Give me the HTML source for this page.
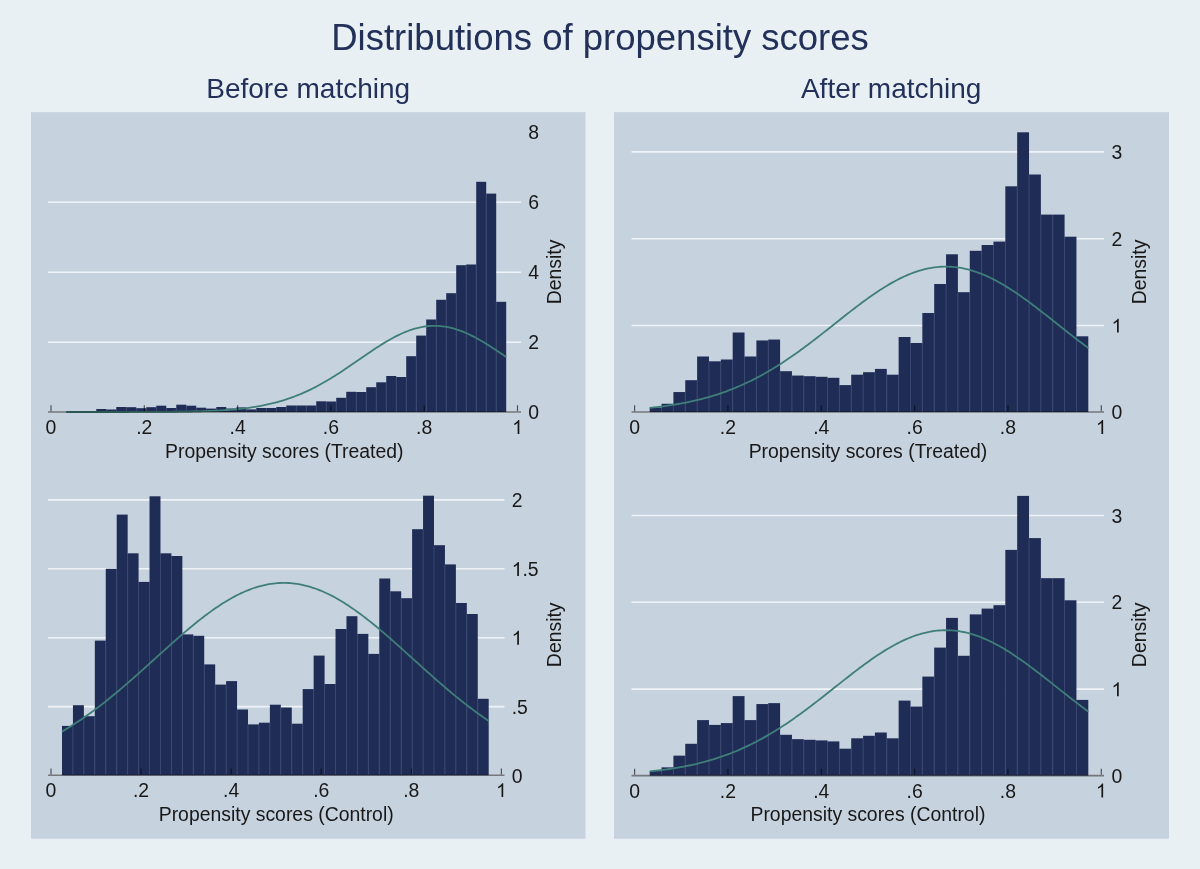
<!DOCTYPE html>
<html><head><meta charset="utf-8"><style>
html,body{margin:0;padding:0;background:#e8f0f3;}
svg{display:block}
.t{font-family:"Liberation Sans", sans-serif;font-size:19.4px;fill:#181818}
.h1{font-family:"Liberation Sans", sans-serif;font-size:36.5px;fill:#22305a}
.h2{font-family:"Liberation Sans", sans-serif;font-size:28px;fill:#22305a}
</style></head><body>
<svg width="1200" height="869" viewBox="0 0 1200 869">
<rect width="1200" height="869" fill="#e8f0f3"/>
<text x="600" y="50.1" text-anchor="middle" class="h1">Distributions of propensity scores</text>
<text x="308.2" y="98.4" text-anchor="middle" class="h2">Before matching</text>
<text x="891.2" y="98.4" text-anchor="middle" class="h2">After matching</text>
<rect x="31" y="112.2" width="554.5" height="726.5" fill="#c6d2de"/>
<rect x="614" y="112.2" width="555" height="726.5" fill="#c6d2de"/>
<line x1="48" y1="342.30" x2="521" y2="342.30" stroke="#eff3f7" stroke-width="1.6"/>
<line x1="48" y1="272.30" x2="521" y2="272.30" stroke="#eff3f7" stroke-width="1.6"/>
<line x1="48" y1="202.30" x2="521" y2="202.30" stroke="#eff3f7" stroke-width="1.6"/>
<rect x="66.30" y="411.40" width="10.00" height="0.60" fill="#1f2c56"/>
<rect x="76.30" y="411.40" width="10.00" height="0.60" fill="#1f2c56"/>
<rect x="86.30" y="411.40" width="10.00" height="0.60" fill="#1f2c56"/>
<rect x="96.29" y="409.00" width="10.00" height="3.00" fill="#1f2c56"/>
<rect x="106.29" y="409.50" width="10.00" height="2.50" fill="#1f2c56"/>
<rect x="116.29" y="407.00" width="10.00" height="5.00" fill="#1f2c56"/>
<rect x="126.29" y="407.20" width="10.00" height="4.80" fill="#1f2c56"/>
<rect x="136.28" y="408.20" width="10.00" height="3.80" fill="#1f2c56"/>
<rect x="146.28" y="407.20" width="10.00" height="4.80" fill="#1f2c56"/>
<rect x="156.28" y="405.70" width="10.00" height="6.30" fill="#1f2c56"/>
<rect x="166.28" y="408.00" width="10.00" height="4.00" fill="#1f2c56"/>
<rect x="176.28" y="404.70" width="10.00" height="7.30" fill="#1f2c56"/>
<rect x="186.27" y="405.70" width="10.00" height="6.30" fill="#1f2c56"/>
<rect x="196.27" y="407.70" width="10.00" height="4.30" fill="#1f2c56"/>
<rect x="206.27" y="408.60" width="10.00" height="3.40" fill="#1f2c56"/>
<rect x="216.27" y="407.00" width="10.00" height="5.00" fill="#1f2c56"/>
<rect x="226.26" y="408.50" width="10.00" height="3.50" fill="#1f2c56"/>
<rect x="236.26" y="407.40" width="10.00" height="4.60" fill="#1f2c56"/>
<rect x="246.26" y="409.40" width="10.00" height="2.60" fill="#1f2c56"/>
<rect x="256.26" y="408.00" width="10.00" height="4.00" fill="#1f2c56"/>
<rect x="266.25" y="408.00" width="10.00" height="4.00" fill="#1f2c56"/>
<rect x="276.25" y="407.00" width="10.00" height="5.00" fill="#1f2c56"/>
<rect x="286.25" y="405.50" width="10.00" height="6.50" fill="#1f2c56"/>
<rect x="296.25" y="405.50" width="10.00" height="6.50" fill="#1f2c56"/>
<rect x="306.25" y="405.50" width="10.00" height="6.50" fill="#1f2c56"/>
<rect x="316.24" y="401.30" width="10.00" height="10.70" fill="#1f2c56"/>
<rect x="326.24" y="401.50" width="10.00" height="10.50" fill="#1f2c56"/>
<rect x="336.24" y="397.80" width="10.00" height="14.20" fill="#1f2c56"/>
<rect x="346.24" y="391.80" width="10.00" height="20.20" fill="#1f2c56"/>
<rect x="356.23" y="392.00" width="10.00" height="20.00" fill="#1f2c56"/>
<rect x="366.23" y="387.20" width="10.00" height="24.80" fill="#1f2c56"/>
<rect x="376.23" y="382.30" width="10.00" height="29.70" fill="#1f2c56"/>
<rect x="386.23" y="376.00" width="10.00" height="36.00" fill="#1f2c56"/>
<rect x="396.23" y="377.00" width="10.00" height="35.00" fill="#1f2c56"/>
<rect x="406.22" y="356.20" width="10.00" height="55.80" fill="#1f2c56"/>
<rect x="416.22" y="335.60" width="10.00" height="76.40" fill="#1f2c56"/>
<rect x="426.22" y="319.50" width="10.00" height="92.50" fill="#1f2c56"/>
<rect x="436.22" y="299.80" width="10.00" height="112.20" fill="#1f2c56"/>
<rect x="446.21" y="293.20" width="10.00" height="118.80" fill="#1f2c56"/>
<rect x="456.21" y="265.20" width="10.00" height="146.80" fill="#1f2c56"/>
<rect x="466.21" y="264.50" width="10.00" height="147.50" fill="#1f2c56"/>
<rect x="476.21" y="181.80" width="10.00" height="230.20" fill="#1f2c56"/>
<rect x="486.20" y="193.60" width="10.00" height="218.40" fill="#1f2c56"/>
<rect x="496.20" y="301.80" width="10.00" height="110.20" fill="#1f2c56"/>
<line x1="106.29" y1="410.10" x2="106.29" y2="412.00" stroke="#394770" stroke-width="1"/>
<line x1="116.29" y1="410.10" x2="116.29" y2="412.00" stroke="#394770" stroke-width="1"/>
<line x1="126.29" y1="407.80" x2="126.29" y2="412.00" stroke="#394770" stroke-width="1"/>
<line x1="136.28" y1="408.80" x2="136.28" y2="412.00" stroke="#394770" stroke-width="1"/>
<line x1="146.28" y1="408.80" x2="146.28" y2="412.00" stroke="#394770" stroke-width="1"/>
<line x1="156.28" y1="407.80" x2="156.28" y2="412.00" stroke="#394770" stroke-width="1"/>
<line x1="166.28" y1="408.60" x2="166.28" y2="412.00" stroke="#394770" stroke-width="1"/>
<line x1="176.28" y1="408.60" x2="176.28" y2="412.00" stroke="#394770" stroke-width="1"/>
<line x1="186.27" y1="406.30" x2="186.27" y2="412.00" stroke="#394770" stroke-width="1"/>
<line x1="196.27" y1="408.30" x2="196.27" y2="412.00" stroke="#394770" stroke-width="1"/>
<line x1="206.27" y1="409.20" x2="206.27" y2="412.00" stroke="#394770" stroke-width="1"/>
<line x1="216.27" y1="409.20" x2="216.27" y2="412.00" stroke="#394770" stroke-width="1"/>
<line x1="226.26" y1="409.10" x2="226.26" y2="412.00" stroke="#394770" stroke-width="1"/>
<line x1="236.26" y1="409.10" x2="236.26" y2="412.00" stroke="#394770" stroke-width="1"/>
<line x1="246.26" y1="410.00" x2="246.26" y2="412.00" stroke="#394770" stroke-width="1"/>
<line x1="256.26" y1="410.00" x2="256.26" y2="412.00" stroke="#394770" stroke-width="1"/>
<line x1="266.25" y1="408.60" x2="266.25" y2="412.00" stroke="#394770" stroke-width="1"/>
<line x1="276.25" y1="408.60" x2="276.25" y2="412.00" stroke="#394770" stroke-width="1"/>
<line x1="286.25" y1="407.60" x2="286.25" y2="412.00" stroke="#394770" stroke-width="1"/>
<line x1="296.25" y1="406.10" x2="296.25" y2="412.00" stroke="#394770" stroke-width="1"/>
<line x1="306.25" y1="406.10" x2="306.25" y2="412.00" stroke="#394770" stroke-width="1"/>
<line x1="316.24" y1="406.10" x2="316.24" y2="412.00" stroke="#394770" stroke-width="1"/>
<line x1="326.24" y1="402.10" x2="326.24" y2="412.00" stroke="#394770" stroke-width="1"/>
<line x1="336.24" y1="402.10" x2="336.24" y2="412.00" stroke="#394770" stroke-width="1"/>
<line x1="346.24" y1="398.40" x2="346.24" y2="412.00" stroke="#394770" stroke-width="1"/>
<line x1="356.23" y1="392.60" x2="356.23" y2="412.00" stroke="#394770" stroke-width="1"/>
<line x1="366.23" y1="392.60" x2="366.23" y2="412.00" stroke="#394770" stroke-width="1"/>
<line x1="376.23" y1="387.80" x2="376.23" y2="412.00" stroke="#394770" stroke-width="1"/>
<line x1="386.23" y1="382.90" x2="386.23" y2="412.00" stroke="#394770" stroke-width="1"/>
<line x1="396.23" y1="377.60" x2="396.23" y2="412.00" stroke="#394770" stroke-width="1"/>
<line x1="406.22" y1="377.60" x2="406.22" y2="412.00" stroke="#394770" stroke-width="1"/>
<line x1="416.22" y1="356.80" x2="416.22" y2="412.00" stroke="#394770" stroke-width="1"/>
<line x1="426.22" y1="336.20" x2="426.22" y2="412.00" stroke="#394770" stroke-width="1"/>
<line x1="436.22" y1="320.10" x2="436.22" y2="412.00" stroke="#394770" stroke-width="1"/>
<line x1="446.21" y1="300.40" x2="446.21" y2="412.00" stroke="#394770" stroke-width="1"/>
<line x1="456.21" y1="293.80" x2="456.21" y2="412.00" stroke="#394770" stroke-width="1"/>
<line x1="466.21" y1="265.80" x2="466.21" y2="412.00" stroke="#394770" stroke-width="1"/>
<line x1="476.21" y1="265.10" x2="476.21" y2="412.00" stroke="#394770" stroke-width="1"/>
<line x1="486.20" y1="194.20" x2="486.20" y2="412.00" stroke="#394770" stroke-width="1"/>
<line x1="496.20" y1="302.40" x2="496.20" y2="412.00" stroke="#394770" stroke-width="1"/>
<polyline points="66.30,412.00 68.50,412.00 70.70,412.00 72.90,412.00 75.10,412.00 77.30,412.00 79.50,412.00 81.70,412.00 83.90,412.00 86.10,412.00 88.30,412.00 90.49,412.00 92.69,412.00 94.89,412.00 97.09,412.00 99.29,412.00 101.49,411.99 103.69,411.99 105.89,411.99 108.09,411.99 110.29,411.99 112.49,411.99 114.69,411.99 116.89,411.99 119.09,411.99 121.29,411.98 123.49,411.98 125.69,411.98 127.89,411.98 130.09,411.97 132.28,411.97 134.48,411.97 136.68,411.96 138.88,411.96 141.08,411.95 143.28,411.95 145.48,411.94 147.68,411.94 149.88,411.93 152.08,411.92 154.28,411.91 156.48,411.90 158.68,411.89 160.88,411.88 163.08,411.86 165.28,411.85 167.48,411.83 169.68,411.81 171.88,411.79 174.08,411.77 176.27,411.75 178.47,411.72 180.67,411.69 182.87,411.66 185.07,411.63 187.27,411.59 189.47,411.55 191.67,411.51 193.87,411.46 196.07,411.40 198.27,411.35 200.47,411.29 202.67,411.22 204.87,411.15 207.07,411.07 209.27,410.98 211.47,410.89 213.67,410.79 215.87,410.69 218.07,410.57 220.26,410.45 222.46,410.31 224.66,410.17 226.86,410.02 229.06,409.86 231.26,409.68 233.46,409.49 235.66,409.29 237.86,409.08 240.06,408.85 242.26,408.60 244.46,408.35 246.66,408.07 248.86,407.78 251.06,407.47 253.26,407.14 255.46,406.79 257.66,406.42 259.86,406.03 262.06,405.61 264.25,405.18 266.45,404.72 268.65,404.23 270.85,403.73 273.05,403.19 275.25,402.63 277.45,402.04 279.65,401.43 281.85,400.78 284.05,400.11 286.25,399.40 288.45,398.67 290.65,397.90 292.85,397.11 295.05,396.28 297.25,395.42 299.45,394.53 301.65,393.60 303.85,392.64 306.05,391.65 308.25,390.63 310.44,389.58 312.64,388.49 314.84,387.37 317.04,386.22 319.24,385.04 321.44,383.83 323.64,382.59 325.84,381.32 328.04,380.02 330.24,378.70 332.44,377.35 334.64,375.98 336.84,374.58 339.04,373.16 341.24,371.73 343.44,370.27 345.64,368.80 347.84,367.32 350.04,365.82 352.24,364.31 354.43,362.80 356.63,361.28 358.83,359.76 361.03,358.24 363.23,356.72 365.43,355.21 367.63,353.70 369.83,352.21 372.03,350.73 374.23,349.26 376.43,347.82 378.63,346.40 380.83,345.00 383.03,343.63 385.23,342.29 387.43,340.99 389.63,339.72 391.83,338.49 394.03,337.30 396.23,336.16 398.42,335.07 400.62,334.03 402.82,333.04 405.02,332.11 407.22,331.23 409.42,330.41 411.62,329.66 413.82,328.96 416.02,328.34 418.22,327.78 420.42,327.28 422.62,326.86 424.82,326.51 427.02,326.23 429.22,326.02 431.42,325.88 433.62,325.81 435.82,325.82 438.02,325.90 440.22,326.06 442.41,326.28 444.61,326.58 446.81,326.95 449.01,327.39 451.21,327.90 453.41,328.48 455.61,329.12 457.81,329.83 460.01,330.60 462.21,331.43 464.41,332.32 466.61,333.26 468.81,334.27 471.01,335.32 473.21,336.42 475.41,337.57 477.61,338.77 479.81,340.01 482.01,341.28 484.20,342.60 486.40,343.94 488.60,345.32 490.80,346.72 493.00,348.15 495.20,349.60 497.40,351.07 499.60,352.55 501.80,354.05 504.00,355.56 506.20,357.07" fill="none" stroke="#3f7f79" stroke-width="1.8"/>
<g style="mix-blend-mode:multiply">
<line x1="48" y1="412.00" x2="521" y2="412.00" stroke="#96918e" stroke-width="1.6"/>
<line x1="51.00" y1="405.20" x2="51.00" y2="411.20" stroke="#666666" stroke-width="1.2"/>
<line x1="144.30" y1="405.20" x2="144.30" y2="411.20" stroke="#666666" stroke-width="1.2"/>
<line x1="237.60" y1="405.20" x2="237.60" y2="411.20" stroke="#666666" stroke-width="1.2"/>
<line x1="330.90" y1="405.20" x2="330.90" y2="411.20" stroke="#666666" stroke-width="1.2"/>
<line x1="424.20" y1="405.20" x2="424.20" y2="411.20" stroke="#666666" stroke-width="1.2"/>
<line x1="517.50" y1="405.20" x2="517.50" y2="411.20" stroke="#666666" stroke-width="1.2"/>
</g>
<text x="51.00" y="433.90" text-anchor="middle" class="t">0</text>
<text x="144.30" y="433.90" text-anchor="middle" class="t">.2</text>
<text x="237.60" y="433.90" text-anchor="middle" class="t">.4</text>
<text x="330.90" y="433.90" text-anchor="middle" class="t">.6</text>
<text x="424.20" y="433.90" text-anchor="middle" class="t">.8</text>
<path d="M519.33,433.90 H517.63 V423.03 Q517.01,423.62 516.01,424.21 Q515.00,424.80 514.21,425.09 V423.44 Q515.64,422.77 516.71,421.81 Q517.78,420.86 518.22,419.96 H519.33 Z" fill="#181818"/>
<text x="284.25" y="457.50" text-anchor="middle" class="t">Propensity scores (Treated)</text>
<text x="528.30" y="419.40" class="t">0</text>
<text x="528.30" y="349.40" class="t">2</text>
<text x="528.30" y="279.40" class="t">4</text>
<text x="528.30" y="209.40" class="t">6</text>
<text x="528.30" y="139.40" class="t">8</text>
<text transform="translate(561.3,272) rotate(-90)" text-anchor="middle" class="t">Density</text>
<line x1="48" y1="706.60" x2="504.5" y2="706.60" stroke="#eff3f7" stroke-width="1.6"/>
<line x1="48" y1="637.70" x2="504.5" y2="637.70" stroke="#eff3f7" stroke-width="1.6"/>
<line x1="48" y1="568.80" x2="504.5" y2="568.80" stroke="#eff3f7" stroke-width="1.6"/>
<line x1="48" y1="499.90" x2="504.5" y2="499.90" stroke="#eff3f7" stroke-width="1.6"/>
<rect x="62.00" y="725.90" width="10.94" height="49.30" fill="#1f2c56"/>
<rect x="72.94" y="705.20" width="10.94" height="70.00" fill="#1f2c56"/>
<rect x="83.88" y="716.20" width="10.94" height="59.00" fill="#1f2c56"/>
<rect x="94.82" y="640.60" width="10.94" height="134.60" fill="#1f2c56"/>
<rect x="105.76" y="568.80" width="10.94" height="206.40" fill="#1f2c56"/>
<rect x="116.71" y="514.60" width="10.94" height="260.60" fill="#1f2c56"/>
<rect x="127.65" y="553.30" width="10.94" height="221.90" fill="#1f2c56"/>
<rect x="138.59" y="581.90" width="10.94" height="193.30" fill="#1f2c56"/>
<rect x="149.53" y="496.30" width="10.94" height="278.90" fill="#1f2c56"/>
<rect x="160.47" y="553.30" width="10.94" height="221.90" fill="#1f2c56"/>
<rect x="171.41" y="556.00" width="10.94" height="219.20" fill="#1f2c56"/>
<rect x="182.35" y="634.40" width="10.94" height="140.80" fill="#1f2c56"/>
<rect x="193.29" y="635.80" width="10.94" height="139.40" fill="#1f2c56"/>
<rect x="204.23" y="664.40" width="10.94" height="110.80" fill="#1f2c56"/>
<rect x="215.17" y="684.60" width="10.94" height="90.60" fill="#1f2c56"/>
<rect x="226.12" y="681.10" width="10.94" height="94.10" fill="#1f2c56"/>
<rect x="237.06" y="709.50" width="10.94" height="65.70" fill="#1f2c56"/>
<rect x="248.00" y="724.40" width="10.94" height="50.80" fill="#1f2c56"/>
<rect x="258.94" y="722.70" width="10.94" height="52.50" fill="#1f2c56"/>
<rect x="269.88" y="704.70" width="10.94" height="70.50" fill="#1f2c56"/>
<rect x="280.82" y="707.50" width="10.94" height="67.70" fill="#1f2c56"/>
<rect x="291.76" y="723.70" width="10.94" height="51.50" fill="#1f2c56"/>
<rect x="302.70" y="689.10" width="10.94" height="86.10" fill="#1f2c56"/>
<rect x="313.64" y="655.60" width="10.94" height="119.60" fill="#1f2c56"/>
<rect x="324.58" y="684.00" width="10.94" height="91.20" fill="#1f2c56"/>
<rect x="335.53" y="629.00" width="10.94" height="146.20" fill="#1f2c56"/>
<rect x="346.47" y="616.20" width="10.94" height="159.00" fill="#1f2c56"/>
<rect x="357.41" y="633.90" width="10.94" height="141.30" fill="#1f2c56"/>
<rect x="368.35" y="653.90" width="10.94" height="121.30" fill="#1f2c56"/>
<rect x="379.29" y="578.50" width="10.94" height="196.70" fill="#1f2c56"/>
<rect x="390.23" y="591.30" width="10.94" height="183.90" fill="#1f2c56"/>
<rect x="401.17" y="598.20" width="10.94" height="177.00" fill="#1f2c56"/>
<rect x="412.11" y="529.20" width="10.94" height="246.00" fill="#1f2c56"/>
<rect x="423.05" y="495.70" width="10.94" height="279.50" fill="#1f2c56"/>
<rect x="433.99" y="545.20" width="10.94" height="230.00" fill="#1f2c56"/>
<rect x="444.94" y="564.40" width="10.94" height="210.80" fill="#1f2c56"/>
<rect x="455.88" y="603.00" width="10.94" height="172.20" fill="#1f2c56"/>
<rect x="466.82" y="614.00" width="10.94" height="161.20" fill="#1f2c56"/>
<rect x="477.76" y="698.80" width="10.94" height="76.40" fill="#1f2c56"/>
<line x1="72.94" y1="726.50" x2="72.94" y2="775.20" stroke="#394770" stroke-width="1"/>
<line x1="83.88" y1="716.80" x2="83.88" y2="775.20" stroke="#394770" stroke-width="1"/>
<line x1="94.82" y1="716.80" x2="94.82" y2="775.20" stroke="#394770" stroke-width="1"/>
<line x1="105.76" y1="641.20" x2="105.76" y2="775.20" stroke="#394770" stroke-width="1"/>
<line x1="116.71" y1="569.40" x2="116.71" y2="775.20" stroke="#394770" stroke-width="1"/>
<line x1="127.65" y1="553.90" x2="127.65" y2="775.20" stroke="#394770" stroke-width="1"/>
<line x1="138.59" y1="582.50" x2="138.59" y2="775.20" stroke="#394770" stroke-width="1"/>
<line x1="149.53" y1="582.50" x2="149.53" y2="775.20" stroke="#394770" stroke-width="1"/>
<line x1="160.47" y1="553.90" x2="160.47" y2="775.20" stroke="#394770" stroke-width="1"/>
<line x1="171.41" y1="556.60" x2="171.41" y2="775.20" stroke="#394770" stroke-width="1"/>
<line x1="182.35" y1="635.00" x2="182.35" y2="775.20" stroke="#394770" stroke-width="1"/>
<line x1="193.29" y1="636.40" x2="193.29" y2="775.20" stroke="#394770" stroke-width="1"/>
<line x1="204.23" y1="665.00" x2="204.23" y2="775.20" stroke="#394770" stroke-width="1"/>
<line x1="215.17" y1="685.20" x2="215.17" y2="775.20" stroke="#394770" stroke-width="1"/>
<line x1="226.12" y1="685.20" x2="226.12" y2="775.20" stroke="#394770" stroke-width="1"/>
<line x1="237.06" y1="710.10" x2="237.06" y2="775.20" stroke="#394770" stroke-width="1"/>
<line x1="248.00" y1="725.00" x2="248.00" y2="775.20" stroke="#394770" stroke-width="1"/>
<line x1="258.94" y1="725.00" x2="258.94" y2="775.20" stroke="#394770" stroke-width="1"/>
<line x1="269.88" y1="723.30" x2="269.88" y2="775.20" stroke="#394770" stroke-width="1"/>
<line x1="280.82" y1="708.10" x2="280.82" y2="775.20" stroke="#394770" stroke-width="1"/>
<line x1="291.76" y1="724.30" x2="291.76" y2="775.20" stroke="#394770" stroke-width="1"/>
<line x1="302.70" y1="724.30" x2="302.70" y2="775.20" stroke="#394770" stroke-width="1"/>
<line x1="313.64" y1="689.70" x2="313.64" y2="775.20" stroke="#394770" stroke-width="1"/>
<line x1="324.58" y1="684.60" x2="324.58" y2="775.20" stroke="#394770" stroke-width="1"/>
<line x1="335.53" y1="684.60" x2="335.53" y2="775.20" stroke="#394770" stroke-width="1"/>
<line x1="346.47" y1="629.60" x2="346.47" y2="775.20" stroke="#394770" stroke-width="1"/>
<line x1="357.41" y1="634.50" x2="357.41" y2="775.20" stroke="#394770" stroke-width="1"/>
<line x1="368.35" y1="654.50" x2="368.35" y2="775.20" stroke="#394770" stroke-width="1"/>
<line x1="379.29" y1="654.50" x2="379.29" y2="775.20" stroke="#394770" stroke-width="1"/>
<line x1="390.23" y1="591.90" x2="390.23" y2="775.20" stroke="#394770" stroke-width="1"/>
<line x1="401.17" y1="598.80" x2="401.17" y2="775.20" stroke="#394770" stroke-width="1"/>
<line x1="412.11" y1="598.80" x2="412.11" y2="775.20" stroke="#394770" stroke-width="1"/>
<line x1="423.05" y1="529.80" x2="423.05" y2="775.20" stroke="#394770" stroke-width="1"/>
<line x1="433.99" y1="545.80" x2="433.99" y2="775.20" stroke="#394770" stroke-width="1"/>
<line x1="444.94" y1="565.00" x2="444.94" y2="775.20" stroke="#394770" stroke-width="1"/>
<line x1="455.88" y1="603.60" x2="455.88" y2="775.20" stroke="#394770" stroke-width="1"/>
<line x1="466.82" y1="614.60" x2="466.82" y2="775.20" stroke="#394770" stroke-width="1"/>
<line x1="477.76" y1="699.40" x2="477.76" y2="775.20" stroke="#394770" stroke-width="1"/>
<polyline points="62.00,731.61 64.13,730.36 66.27,729.08 68.40,727.77 70.53,726.45 72.67,725.10 74.80,723.72 76.93,722.33 79.07,720.91 81.20,719.47 83.34,718.00 85.47,716.52 87.60,715.01 89.74,713.48 91.87,711.92 94.00,710.35 96.14,708.75 98.27,707.14 100.40,705.50 102.54,703.85 104.67,702.18 106.80,700.48 108.94,698.77 111.07,697.04 113.20,695.30 115.34,693.53 117.47,691.76 119.60,689.96 121.74,688.15 123.87,686.33 126.00,684.49 128.14,682.65 130.27,680.79 132.41,678.91 134.54,677.03 136.67,675.14 138.81,673.24 140.94,671.34 143.07,669.42 145.21,667.51 147.34,665.58 149.47,663.65 151.61,661.72 153.74,659.79 155.87,657.86 158.01,655.93 160.14,654.00 162.27,652.07 164.41,650.15 166.54,648.23 168.68,646.31 170.81,644.41 172.94,642.51 175.08,640.62 177.21,638.74 179.34,636.88 181.48,635.02 183.61,633.18 185.74,631.36 187.88,629.55 190.01,627.76 192.14,625.99 194.28,624.24 196.41,622.51 198.54,620.81 200.68,619.12 202.81,617.47 204.94,615.83 207.08,614.23 209.21,612.65 211.34,611.11 213.48,609.59 215.61,608.11 217.75,606.66 219.88,605.24 222.01,603.86 224.15,602.52 226.28,601.21 228.41,599.94 230.55,598.71 232.68,597.52 234.81,596.37 236.95,595.26 239.08,594.20 241.21,593.17 243.35,592.20 245.48,591.27 247.61,590.38 249.75,589.54 251.88,588.75 254.01,588.01 256.15,587.32 258.28,586.67 260.42,586.07 262.55,585.53 264.68,585.04 266.82,584.59 268.95,584.20 271.08,583.86 273.22,583.57 275.35,583.33 277.48,583.15 279.62,583.02 281.75,582.94 283.88,582.92 286.02,582.94 288.15,583.02 290.28,583.15 292.42,583.34 294.55,583.58 296.69,583.87 298.82,584.21 300.95,584.60 303.09,585.05 305.22,585.54 307.35,586.09 309.49,586.69 311.62,587.33 313.75,588.03 315.89,588.77 318.02,589.56 320.15,590.40 322.29,591.29 324.42,592.22 326.55,593.20 328.69,594.22 330.82,595.29 332.95,596.40 335.09,597.55 337.22,598.74 339.36,599.97 341.49,601.24 343.62,602.55 345.76,603.90 347.89,605.28 350.02,606.69 352.16,608.15 354.29,609.63 356.42,611.15 358.56,612.69 360.69,614.27 362.82,615.88 364.96,617.51 367.09,619.17 369.22,620.85 371.36,622.56 373.49,624.29 375.62,626.04 377.76,627.81 379.89,629.60 382.02,631.41 384.16,633.23 386.29,635.07 388.43,636.92 390.56,638.79 392.69,640.67 394.83,642.56 396.96,644.46 399.09,646.36 401.23,648.28 403.36,650.20 405.49,652.12 407.63,654.05 409.76,655.98 411.89,657.91 414.03,659.84 416.16,661.77 418.29,663.70 420.43,665.63 422.56,667.55 424.69,669.47 426.83,671.39 428.96,673.29 431.10,675.19 433.23,677.08 435.36,678.96 437.50,680.83 439.63,682.69 441.76,684.54 443.90,686.38 446.03,688.20 448.16,690.01 450.30,691.80 452.43,693.58 454.56,695.34 456.70,697.09 458.83,698.82 460.96,700.53 463.10,702.22 465.23,703.89 467.37,705.55 469.50,707.18 471.63,708.80 473.77,710.39 475.90,711.96 478.03,713.51 480.17,715.05 482.30,716.55 484.43,718.04 486.57,719.50 488.70,720.95" fill="none" stroke="#3f7f79" stroke-width="1.8"/>
<g style="mix-blend-mode:multiply">
<line x1="48" y1="775.20" x2="504.5" y2="775.20" stroke="#96918e" stroke-width="1.6"/>
<line x1="51.00" y1="768.40" x2="51.00" y2="774.40" stroke="#666666" stroke-width="1.2"/>
<line x1="141.08" y1="768.40" x2="141.08" y2="774.40" stroke="#666666" stroke-width="1.2"/>
<line x1="231.16" y1="768.40" x2="231.16" y2="774.40" stroke="#666666" stroke-width="1.2"/>
<line x1="321.24" y1="768.40" x2="321.24" y2="774.40" stroke="#666666" stroke-width="1.2"/>
<line x1="411.32" y1="768.40" x2="411.32" y2="774.40" stroke="#666666" stroke-width="1.2"/>
<line x1="501.40" y1="768.40" x2="501.40" y2="774.40" stroke="#666666" stroke-width="1.2"/>
</g>
<text x="51.00" y="797.10" text-anchor="middle" class="t">0</text>
<text x="141.08" y="797.10" text-anchor="middle" class="t">.2</text>
<text x="231.16" y="797.10" text-anchor="middle" class="t">.4</text>
<text x="321.24" y="797.10" text-anchor="middle" class="t">.6</text>
<text x="411.32" y="797.10" text-anchor="middle" class="t">.8</text>
<path d="M503.23,797.10 H501.53 V786.23 Q500.91,786.82 499.91,787.41 Q498.90,788.00 498.11,788.29 V786.64 Q499.54,785.97 500.61,785.01 Q501.68,784.06 502.12,783.16 H503.23 Z" fill="#181818"/>
<text x="276.20" y="820.70" text-anchor="middle" class="t">Propensity scores (Control)</text>
<text x="511.70" y="782.60" class="t">0</text>
<text x="511.70" y="713.70" class="t">.5</text>
<path d="M518.93,644.80 H517.22 V633.93 Q516.61,634.52 515.60,635.11 Q514.60,635.70 513.80,635.99 V634.34 Q515.23,633.67 516.30,632.71 Q517.37,631.76 517.82,630.86 H518.93 Z" fill="#181818"/>
<path d="M518.93,575.90 H517.22 V565.03 Q516.61,565.62 515.60,566.21 Q514.60,566.80 513.80,567.09 V565.44 Q515.23,564.77 516.30,563.81 Q517.37,562.86 517.82,561.96 H518.93 Z" fill="#181818"/><text x="522.49" y="575.90" class="t">.5</text>
<text x="511.70" y="507.00" class="t">2</text>
<text transform="translate(561.3,634.8) rotate(-90)" text-anchor="middle" class="t">Density</text>
<line x1="631.5" y1="325.50" x2="1104" y2="325.50" stroke="#eff3f7" stroke-width="1.6"/>
<line x1="631.5" y1="238.70" x2="1104" y2="238.70" stroke="#eff3f7" stroke-width="1.6"/>
<line x1="631.5" y1="151.90" x2="1104" y2="151.90" stroke="#eff3f7" stroke-width="1.6"/>
<rect x="649.70" y="407.50" width="11.85" height="4.50" fill="#1f2c56"/>
<rect x="661.55" y="403.75" width="11.85" height="8.25" fill="#1f2c56"/>
<rect x="673.41" y="392.05" width="11.85" height="19.95" fill="#1f2c56"/>
<rect x="685.26" y="380.20" width="11.85" height="31.80" fill="#1f2c56"/>
<rect x="697.12" y="356.50" width="11.85" height="55.50" fill="#1f2c56"/>
<rect x="708.97" y="361.30" width="11.85" height="50.70" fill="#1f2c56"/>
<rect x="720.82" y="359.50" width="11.85" height="52.50" fill="#1f2c56"/>
<rect x="732.68" y="332.50" width="11.85" height="79.50" fill="#1f2c56"/>
<rect x="744.53" y="356.50" width="11.85" height="55.50" fill="#1f2c56"/>
<rect x="756.39" y="340.45" width="11.85" height="71.55" fill="#1f2c56"/>
<rect x="768.24" y="339.55" width="11.85" height="72.45" fill="#1f2c56"/>
<rect x="780.09" y="371.20" width="11.85" height="40.80" fill="#1f2c56"/>
<rect x="791.95" y="375.55" width="11.85" height="36.45" fill="#1f2c56"/>
<rect x="803.80" y="376.20" width="11.85" height="35.80" fill="#1f2c56"/>
<rect x="815.66" y="376.80" width="11.85" height="35.20" fill="#1f2c56"/>
<rect x="827.51" y="377.80" width="11.85" height="34.20" fill="#1f2c56"/>
<rect x="839.36" y="385.10" width="11.85" height="26.90" fill="#1f2c56"/>
<rect x="851.22" y="374.70" width="11.85" height="37.30" fill="#1f2c56"/>
<rect x="863.07" y="372.20" width="11.85" height="39.80" fill="#1f2c56"/>
<rect x="874.93" y="368.90" width="11.85" height="43.10" fill="#1f2c56"/>
<rect x="886.78" y="374.70" width="11.85" height="37.30" fill="#1f2c56"/>
<rect x="898.64" y="337.00" width="11.85" height="75.00" fill="#1f2c56"/>
<rect x="910.49" y="343.00" width="11.85" height="69.00" fill="#1f2c56"/>
<rect x="922.34" y="313.00" width="11.85" height="99.00" fill="#1f2c56"/>
<rect x="934.20" y="284.00" width="11.85" height="128.00" fill="#1f2c56"/>
<rect x="946.05" y="254.30" width="11.85" height="157.70" fill="#1f2c56"/>
<rect x="957.91" y="292.20" width="11.85" height="119.80" fill="#1f2c56"/>
<rect x="969.76" y="250.80" width="11.85" height="161.20" fill="#1f2c56"/>
<rect x="981.61" y="245.00" width="11.85" height="167.00" fill="#1f2c56"/>
<rect x="993.47" y="241.60" width="11.85" height="170.40" fill="#1f2c56"/>
<rect x="1005.32" y="186.30" width="11.85" height="225.70" fill="#1f2c56"/>
<rect x="1017.18" y="132.30" width="11.85" height="279.70" fill="#1f2c56"/>
<rect x="1029.03" y="174.50" width="11.85" height="237.50" fill="#1f2c56"/>
<rect x="1040.88" y="214.60" width="11.85" height="197.40" fill="#1f2c56"/>
<rect x="1052.74" y="214.60" width="11.85" height="197.40" fill="#1f2c56"/>
<rect x="1064.59" y="236.70" width="11.85" height="175.30" fill="#1f2c56"/>
<rect x="1076.45" y="336.30" width="11.85" height="75.70" fill="#1f2c56"/>
<line x1="661.55" y1="408.10" x2="661.55" y2="412.00" stroke="#394770" stroke-width="1"/>
<line x1="673.41" y1="404.35" x2="673.41" y2="412.00" stroke="#394770" stroke-width="1"/>
<line x1="685.26" y1="392.65" x2="685.26" y2="412.00" stroke="#394770" stroke-width="1"/>
<line x1="697.12" y1="380.80" x2="697.12" y2="412.00" stroke="#394770" stroke-width="1"/>
<line x1="708.97" y1="361.90" x2="708.97" y2="412.00" stroke="#394770" stroke-width="1"/>
<line x1="720.82" y1="361.90" x2="720.82" y2="412.00" stroke="#394770" stroke-width="1"/>
<line x1="732.68" y1="360.10" x2="732.68" y2="412.00" stroke="#394770" stroke-width="1"/>
<line x1="744.53" y1="357.10" x2="744.53" y2="412.00" stroke="#394770" stroke-width="1"/>
<line x1="756.39" y1="357.10" x2="756.39" y2="412.00" stroke="#394770" stroke-width="1"/>
<line x1="768.24" y1="341.05" x2="768.24" y2="412.00" stroke="#394770" stroke-width="1"/>
<line x1="780.09" y1="371.80" x2="780.09" y2="412.00" stroke="#394770" stroke-width="1"/>
<line x1="791.95" y1="376.15" x2="791.95" y2="412.00" stroke="#394770" stroke-width="1"/>
<line x1="803.80" y1="376.80" x2="803.80" y2="412.00" stroke="#394770" stroke-width="1"/>
<line x1="815.66" y1="377.40" x2="815.66" y2="412.00" stroke="#394770" stroke-width="1"/>
<line x1="827.51" y1="378.40" x2="827.51" y2="412.00" stroke="#394770" stroke-width="1"/>
<line x1="839.36" y1="385.70" x2="839.36" y2="412.00" stroke="#394770" stroke-width="1"/>
<line x1="851.22" y1="385.70" x2="851.22" y2="412.00" stroke="#394770" stroke-width="1"/>
<line x1="863.07" y1="375.30" x2="863.07" y2="412.00" stroke="#394770" stroke-width="1"/>
<line x1="874.93" y1="372.80" x2="874.93" y2="412.00" stroke="#394770" stroke-width="1"/>
<line x1="886.78" y1="375.30" x2="886.78" y2="412.00" stroke="#394770" stroke-width="1"/>
<line x1="898.64" y1="375.30" x2="898.64" y2="412.00" stroke="#394770" stroke-width="1"/>
<line x1="910.49" y1="343.60" x2="910.49" y2="412.00" stroke="#394770" stroke-width="1"/>
<line x1="922.34" y1="343.60" x2="922.34" y2="412.00" stroke="#394770" stroke-width="1"/>
<line x1="934.20" y1="313.60" x2="934.20" y2="412.00" stroke="#394770" stroke-width="1"/>
<line x1="946.05" y1="284.60" x2="946.05" y2="412.00" stroke="#394770" stroke-width="1"/>
<line x1="957.91" y1="292.80" x2="957.91" y2="412.00" stroke="#394770" stroke-width="1"/>
<line x1="969.76" y1="292.80" x2="969.76" y2="412.00" stroke="#394770" stroke-width="1"/>
<line x1="981.61" y1="251.40" x2="981.61" y2="412.00" stroke="#394770" stroke-width="1"/>
<line x1="993.47" y1="245.60" x2="993.47" y2="412.00" stroke="#394770" stroke-width="1"/>
<line x1="1005.32" y1="242.20" x2="1005.32" y2="412.00" stroke="#394770" stroke-width="1"/>
<line x1="1017.18" y1="186.90" x2="1017.18" y2="412.00" stroke="#394770" stroke-width="1"/>
<line x1="1029.03" y1="175.10" x2="1029.03" y2="412.00" stroke="#394770" stroke-width="1"/>
<line x1="1040.88" y1="215.20" x2="1040.88" y2="412.00" stroke="#394770" stroke-width="1"/>
<line x1="1052.74" y1="215.20" x2="1052.74" y2="412.00" stroke="#394770" stroke-width="1"/>
<line x1="1064.59" y1="237.30" x2="1064.59" y2="412.00" stroke="#394770" stroke-width="1"/>
<line x1="1076.45" y1="336.90" x2="1076.45" y2="412.00" stroke="#394770" stroke-width="1"/>
<polyline points="649.70,407.82 651.89,407.60 654.09,407.36 656.28,407.12 658.47,406.86 660.67,406.59 662.86,406.31 665.05,406.02 667.24,405.72 669.44,405.40 671.63,405.07 673.82,404.72 676.02,404.37 678.21,403.99 680.40,403.60 682.60,403.20 684.79,402.78 686.98,402.35 689.17,401.90 691.37,401.43 693.56,400.94 695.75,400.44 697.95,399.91 700.14,399.37 702.33,398.81 704.53,398.23 706.72,397.63 708.91,397.01 711.10,396.37 713.30,395.71 715.49,395.03 717.68,394.32 719.88,393.60 722.07,392.85 724.26,392.07 726.46,391.28 728.65,390.46 730.84,389.62 733.03,388.75 735.23,387.86 737.42,386.95 739.61,386.01 741.81,385.04 744.00,384.05 746.19,383.04 748.38,382.00 750.58,380.94 752.77,379.85 754.96,378.74 757.16,377.60 759.35,376.43 761.54,375.24 763.74,374.03 765.93,372.79 768.12,371.52 770.32,370.23 772.51,368.92 774.70,367.58 776.89,366.22 779.09,364.84 781.28,363.43 783.47,362.00 785.67,360.55 787.86,359.07 790.05,357.58 792.25,356.06 794.44,354.53 796.63,352.97 798.82,351.40 801.02,349.81 803.21,348.20 805.40,346.58 807.60,344.94 809.79,343.29 811.98,341.62 814.17,339.95 816.37,338.26 818.56,336.56 820.75,334.85 822.95,333.13 825.14,331.41 827.33,329.68 829.53,327.94 831.72,326.21 833.91,324.47 836.11,322.73 838.30,320.99 840.49,319.25 842.68,317.52 844.88,315.79 847.07,314.07 849.26,312.36 851.46,310.66 853.65,308.96 855.84,307.28 858.03,305.62 860.23,303.97 862.42,302.33 864.61,300.72 866.81,299.12 869.00,297.55 871.19,296.00 873.39,294.48 875.58,292.98 877.77,291.51 879.97,290.07 882.16,288.66 884.35,287.28 886.54,285.93 888.74,284.62 890.93,283.35 893.12,282.11 895.32,280.92 897.51,279.76 899.70,278.65 901.89,277.57 904.09,276.55 906.28,275.57 908.47,274.63 910.67,273.74 912.86,272.90 915.05,272.11 917.25,271.37 919.44,270.68 921.63,270.05 923.83,269.46 926.02,268.93 928.21,268.45 930.40,268.03 932.60,267.66 934.79,267.35 936.98,267.09 939.18,266.89 941.37,266.75 943.56,266.66 945.75,266.63 947.95,266.65 950.14,266.73 952.33,266.87 954.53,267.06 956.72,267.31 958.91,267.62 961.11,267.98 963.30,268.40 965.49,268.87 967.68,269.39 969.88,269.97 972.07,270.60 974.26,271.28 976.46,272.02 978.65,272.80 980.84,273.64 983.04,274.52 985.23,275.45 987.42,276.43 989.62,277.45 991.81,278.51 994.00,279.62 996.19,280.77 998.39,281.96 1000.58,283.20 1002.77,284.46 1004.97,285.77 1007.16,287.11 1009.35,288.48 1011.54,289.89 1013.74,291.33 1015.93,292.80 1018.12,294.29 1020.32,295.81 1022.51,297.36 1024.70,298.93 1026.90,300.52 1029.09,302.14 1031.28,303.77 1033.47,305.42 1035.67,307.08 1037.86,308.76 1040.05,310.45 1042.25,312.15 1044.44,313.86 1046.63,315.58 1048.83,317.31 1051.02,319.04 1053.21,320.78 1055.40,322.52 1057.60,324.26 1059.79,325.99 1061.98,327.73 1064.18,329.47 1066.37,331.20 1068.56,332.92 1070.76,334.64 1072.95,336.35 1075.14,338.05 1077.34,339.74 1079.53,341.42 1081.72,343.09 1083.91,344.74 1086.11,346.38 1088.30,348.01" fill="none" stroke="#3f7f79" stroke-width="1.8"/>
<g style="mix-blend-mode:multiply">
<line x1="631.5" y1="412.00" x2="1104" y2="412.00" stroke="#96918e" stroke-width="1.6"/>
<line x1="634.60" y1="405.20" x2="634.60" y2="411.20" stroke="#666666" stroke-width="1.2"/>
<line x1="727.94" y1="405.20" x2="727.94" y2="411.20" stroke="#666666" stroke-width="1.2"/>
<line x1="821.28" y1="405.20" x2="821.28" y2="411.20" stroke="#666666" stroke-width="1.2"/>
<line x1="914.62" y1="405.20" x2="914.62" y2="411.20" stroke="#666666" stroke-width="1.2"/>
<line x1="1007.96" y1="405.20" x2="1007.96" y2="411.20" stroke="#666666" stroke-width="1.2"/>
<line x1="1101.30" y1="405.20" x2="1101.30" y2="411.20" stroke="#666666" stroke-width="1.2"/>
</g>
<text x="634.60" y="433.90" text-anchor="middle" class="t">0</text>
<text x="727.94" y="433.90" text-anchor="middle" class="t">.2</text>
<text x="821.28" y="433.90" text-anchor="middle" class="t">.4</text>
<text x="914.62" y="433.90" text-anchor="middle" class="t">.6</text>
<text x="1007.96" y="433.90" text-anchor="middle" class="t">.8</text>
<path d="M1103.13,433.90 H1101.43 V423.03 Q1100.81,423.62 1099.81,424.21 Q1098.80,424.80 1098.01,425.09 V423.44 Q1099.44,422.77 1100.51,421.81 Q1101.58,420.86 1102.02,419.96 H1103.13 Z" fill="#181818"/>
<text x="867.95" y="457.50" text-anchor="middle" class="t">Propensity scores (Treated)</text>
<text x="1111.50" y="419.40" class="t">0</text>
<path d="M1118.73,332.60 H1117.02 V321.73 Q1116.41,322.32 1115.40,322.91 Q1114.40,323.50 1113.60,323.79 V322.14 Q1115.03,321.47 1116.10,320.51 Q1117.17,319.56 1117.62,318.66 H1118.73 Z" fill="#181818"/>
<text x="1111.50" y="245.80" class="t">2</text>
<text x="1111.50" y="159.00" class="t">3</text>
<text transform="translate(1146.3,272) rotate(-90)" text-anchor="middle" class="t">Density</text>
<line x1="631.5" y1="689.10" x2="1104" y2="689.10" stroke="#eff3f7" stroke-width="1.6"/>
<line x1="631.5" y1="602.30" x2="1104" y2="602.30" stroke="#eff3f7" stroke-width="1.6"/>
<line x1="631.5" y1="515.50" x2="1104" y2="515.50" stroke="#eff3f7" stroke-width="1.6"/>
<rect x="649.70" y="771.10" width="11.85" height="4.50" fill="#1f2c56"/>
<rect x="661.55" y="767.35" width="11.85" height="8.25" fill="#1f2c56"/>
<rect x="673.41" y="755.65" width="11.85" height="19.95" fill="#1f2c56"/>
<rect x="685.26" y="743.80" width="11.85" height="31.80" fill="#1f2c56"/>
<rect x="697.12" y="720.10" width="11.85" height="55.50" fill="#1f2c56"/>
<rect x="708.97" y="724.90" width="11.85" height="50.70" fill="#1f2c56"/>
<rect x="720.82" y="723.10" width="11.85" height="52.50" fill="#1f2c56"/>
<rect x="732.68" y="696.10" width="11.85" height="79.50" fill="#1f2c56"/>
<rect x="744.53" y="720.10" width="11.85" height="55.50" fill="#1f2c56"/>
<rect x="756.39" y="704.05" width="11.85" height="71.55" fill="#1f2c56"/>
<rect x="768.24" y="703.15" width="11.85" height="72.45" fill="#1f2c56"/>
<rect x="780.09" y="734.80" width="11.85" height="40.80" fill="#1f2c56"/>
<rect x="791.95" y="739.15" width="11.85" height="36.45" fill="#1f2c56"/>
<rect x="803.80" y="739.80" width="11.85" height="35.80" fill="#1f2c56"/>
<rect x="815.66" y="740.40" width="11.85" height="35.20" fill="#1f2c56"/>
<rect x="827.51" y="741.40" width="11.85" height="34.20" fill="#1f2c56"/>
<rect x="839.36" y="748.70" width="11.85" height="26.90" fill="#1f2c56"/>
<rect x="851.22" y="738.30" width="11.85" height="37.30" fill="#1f2c56"/>
<rect x="863.07" y="735.80" width="11.85" height="39.80" fill="#1f2c56"/>
<rect x="874.93" y="732.50" width="11.85" height="43.10" fill="#1f2c56"/>
<rect x="886.78" y="738.30" width="11.85" height="37.30" fill="#1f2c56"/>
<rect x="898.64" y="700.60" width="11.85" height="75.00" fill="#1f2c56"/>
<rect x="910.49" y="706.60" width="11.85" height="69.00" fill="#1f2c56"/>
<rect x="922.34" y="676.60" width="11.85" height="99.00" fill="#1f2c56"/>
<rect x="934.20" y="647.60" width="11.85" height="128.00" fill="#1f2c56"/>
<rect x="946.05" y="617.90" width="11.85" height="157.70" fill="#1f2c56"/>
<rect x="957.91" y="655.80" width="11.85" height="119.80" fill="#1f2c56"/>
<rect x="969.76" y="614.40" width="11.85" height="161.20" fill="#1f2c56"/>
<rect x="981.61" y="608.60" width="11.85" height="167.00" fill="#1f2c56"/>
<rect x="993.47" y="605.20" width="11.85" height="170.40" fill="#1f2c56"/>
<rect x="1005.32" y="549.90" width="11.85" height="225.70" fill="#1f2c56"/>
<rect x="1017.18" y="495.90" width="11.85" height="279.70" fill="#1f2c56"/>
<rect x="1029.03" y="538.10" width="11.85" height="237.50" fill="#1f2c56"/>
<rect x="1040.88" y="578.20" width="11.85" height="197.40" fill="#1f2c56"/>
<rect x="1052.74" y="578.20" width="11.85" height="197.40" fill="#1f2c56"/>
<rect x="1064.59" y="600.30" width="11.85" height="175.30" fill="#1f2c56"/>
<rect x="1076.45" y="699.90" width="11.85" height="75.70" fill="#1f2c56"/>
<line x1="661.55" y1="771.70" x2="661.55" y2="775.60" stroke="#394770" stroke-width="1"/>
<line x1="673.41" y1="767.95" x2="673.41" y2="775.60" stroke="#394770" stroke-width="1"/>
<line x1="685.26" y1="756.25" x2="685.26" y2="775.60" stroke="#394770" stroke-width="1"/>
<line x1="697.12" y1="744.40" x2="697.12" y2="775.60" stroke="#394770" stroke-width="1"/>
<line x1="708.97" y1="725.50" x2="708.97" y2="775.60" stroke="#394770" stroke-width="1"/>
<line x1="720.82" y1="725.50" x2="720.82" y2="775.60" stroke="#394770" stroke-width="1"/>
<line x1="732.68" y1="723.70" x2="732.68" y2="775.60" stroke="#394770" stroke-width="1"/>
<line x1="744.53" y1="720.70" x2="744.53" y2="775.60" stroke="#394770" stroke-width="1"/>
<line x1="756.39" y1="720.70" x2="756.39" y2="775.60" stroke="#394770" stroke-width="1"/>
<line x1="768.24" y1="704.65" x2="768.24" y2="775.60" stroke="#394770" stroke-width="1"/>
<line x1="780.09" y1="735.40" x2="780.09" y2="775.60" stroke="#394770" stroke-width="1"/>
<line x1="791.95" y1="739.75" x2="791.95" y2="775.60" stroke="#394770" stroke-width="1"/>
<line x1="803.80" y1="740.40" x2="803.80" y2="775.60" stroke="#394770" stroke-width="1"/>
<line x1="815.66" y1="741.00" x2="815.66" y2="775.60" stroke="#394770" stroke-width="1"/>
<line x1="827.51" y1="742.00" x2="827.51" y2="775.60" stroke="#394770" stroke-width="1"/>
<line x1="839.36" y1="749.30" x2="839.36" y2="775.60" stroke="#394770" stroke-width="1"/>
<line x1="851.22" y1="749.30" x2="851.22" y2="775.60" stroke="#394770" stroke-width="1"/>
<line x1="863.07" y1="738.90" x2="863.07" y2="775.60" stroke="#394770" stroke-width="1"/>
<line x1="874.93" y1="736.40" x2="874.93" y2="775.60" stroke="#394770" stroke-width="1"/>
<line x1="886.78" y1="738.90" x2="886.78" y2="775.60" stroke="#394770" stroke-width="1"/>
<line x1="898.64" y1="738.90" x2="898.64" y2="775.60" stroke="#394770" stroke-width="1"/>
<line x1="910.49" y1="707.20" x2="910.49" y2="775.60" stroke="#394770" stroke-width="1"/>
<line x1="922.34" y1="707.20" x2="922.34" y2="775.60" stroke="#394770" stroke-width="1"/>
<line x1="934.20" y1="677.20" x2="934.20" y2="775.60" stroke="#394770" stroke-width="1"/>
<line x1="946.05" y1="648.20" x2="946.05" y2="775.60" stroke="#394770" stroke-width="1"/>
<line x1="957.91" y1="656.40" x2="957.91" y2="775.60" stroke="#394770" stroke-width="1"/>
<line x1="969.76" y1="656.40" x2="969.76" y2="775.60" stroke="#394770" stroke-width="1"/>
<line x1="981.61" y1="615.00" x2="981.61" y2="775.60" stroke="#394770" stroke-width="1"/>
<line x1="993.47" y1="609.20" x2="993.47" y2="775.60" stroke="#394770" stroke-width="1"/>
<line x1="1005.32" y1="605.80" x2="1005.32" y2="775.60" stroke="#394770" stroke-width="1"/>
<line x1="1017.18" y1="550.50" x2="1017.18" y2="775.60" stroke="#394770" stroke-width="1"/>
<line x1="1029.03" y1="538.70" x2="1029.03" y2="775.60" stroke="#394770" stroke-width="1"/>
<line x1="1040.88" y1="578.80" x2="1040.88" y2="775.60" stroke="#394770" stroke-width="1"/>
<line x1="1052.74" y1="578.80" x2="1052.74" y2="775.60" stroke="#394770" stroke-width="1"/>
<line x1="1064.59" y1="600.90" x2="1064.59" y2="775.60" stroke="#394770" stroke-width="1"/>
<line x1="1076.45" y1="700.50" x2="1076.45" y2="775.60" stroke="#394770" stroke-width="1"/>
<polyline points="649.70,771.42 651.89,771.20 654.09,770.96 656.28,770.72 658.47,770.46 660.67,770.19 662.86,769.91 665.05,769.62 667.24,769.32 669.44,769.00 671.63,768.67 673.82,768.32 676.02,767.97 678.21,767.59 680.40,767.20 682.60,766.80 684.79,766.38 686.98,765.95 689.17,765.50 691.37,765.03 693.56,764.54 695.75,764.04 697.95,763.51 700.14,762.97 702.33,762.41 704.53,761.83 706.72,761.23 708.91,760.61 711.10,759.97 713.30,759.31 715.49,758.63 717.68,757.92 719.88,757.20 722.07,756.45 724.26,755.67 726.46,754.88 728.65,754.06 730.84,753.22 733.03,752.35 735.23,751.46 737.42,750.55 739.61,749.61 741.81,748.64 744.00,747.65 746.19,746.64 748.38,745.60 750.58,744.54 752.77,743.45 754.96,742.34 757.16,741.20 759.35,740.03 761.54,738.84 763.74,737.63 765.93,736.39 768.12,735.12 770.32,733.83 772.51,732.52 774.70,731.18 776.89,729.82 779.09,728.44 781.28,727.03 783.47,725.60 785.67,724.15 787.86,722.67 790.05,721.18 792.25,719.66 794.44,718.13 796.63,716.57 798.82,715.00 801.02,713.41 803.21,711.80 805.40,710.18 807.60,708.54 809.79,706.89 811.98,705.22 814.17,703.55 816.37,701.86 818.56,700.16 820.75,698.45 822.95,696.73 825.14,695.01 827.33,693.28 829.53,691.54 831.72,689.81 833.91,688.07 836.11,686.33 838.30,684.59 840.49,682.85 842.68,681.12 844.88,679.39 847.07,677.67 849.26,675.96 851.46,674.26 853.65,672.56 855.84,670.88 858.03,669.22 860.23,667.57 862.42,665.93 864.61,664.32 866.81,662.72 869.00,661.15 871.19,659.60 873.39,658.08 875.58,656.58 877.77,655.11 879.97,653.67 882.16,652.26 884.35,650.88 886.54,649.53 888.74,648.22 890.93,646.95 893.12,645.71 895.32,644.52 897.51,643.36 899.70,642.25 901.89,641.17 904.09,640.15 906.28,639.17 908.47,638.23 910.67,637.34 912.86,636.50 915.05,635.71 917.25,634.97 919.44,634.28 921.63,633.65 923.83,633.06 926.02,632.53 928.21,632.05 930.40,631.63 932.60,631.26 934.79,630.95 936.98,630.69 939.18,630.49 941.37,630.35 943.56,630.26 945.75,630.23 947.95,630.25 950.14,630.33 952.33,630.47 954.53,630.66 956.72,630.91 958.91,631.22 961.11,631.58 963.30,632.00 965.49,632.47 967.68,632.99 969.88,633.57 972.07,634.20 974.26,634.88 976.46,635.62 978.65,636.40 980.84,637.24 983.04,638.12 985.23,639.05 987.42,640.03 989.62,641.05 991.81,642.11 994.00,643.22 996.19,644.37 998.39,645.56 1000.58,646.80 1002.77,648.06 1004.97,649.37 1007.16,650.71 1009.35,652.08 1011.54,653.49 1013.74,654.93 1015.93,656.40 1018.12,657.89 1020.32,659.41 1022.51,660.96 1024.70,662.53 1026.90,664.12 1029.09,665.74 1031.28,667.37 1033.47,669.02 1035.67,670.68 1037.86,672.36 1040.05,674.05 1042.25,675.75 1044.44,677.46 1046.63,679.18 1048.83,680.91 1051.02,682.64 1053.21,684.38 1055.40,686.12 1057.60,687.86 1059.79,689.59 1061.98,691.33 1064.18,693.07 1066.37,694.80 1068.56,696.52 1070.76,698.24 1072.95,699.95 1075.14,701.65 1077.34,703.34 1079.53,705.02 1081.72,706.69 1083.91,708.34 1086.11,709.98 1088.30,711.61" fill="none" stroke="#3f7f79" stroke-width="1.8"/>
<g style="mix-blend-mode:multiply">
<line x1="631.5" y1="775.60" x2="1104" y2="775.60" stroke="#96918e" stroke-width="1.6"/>
<line x1="634.60" y1="768.80" x2="634.60" y2="774.80" stroke="#666666" stroke-width="1.2"/>
<line x1="727.94" y1="768.80" x2="727.94" y2="774.80" stroke="#666666" stroke-width="1.2"/>
<line x1="821.28" y1="768.80" x2="821.28" y2="774.80" stroke="#666666" stroke-width="1.2"/>
<line x1="914.62" y1="768.80" x2="914.62" y2="774.80" stroke="#666666" stroke-width="1.2"/>
<line x1="1007.96" y1="768.80" x2="1007.96" y2="774.80" stroke="#666666" stroke-width="1.2"/>
<line x1="1101.30" y1="768.80" x2="1101.30" y2="774.80" stroke="#666666" stroke-width="1.2"/>
</g>
<text x="634.60" y="797.50" text-anchor="middle" class="t">0</text>
<text x="727.94" y="797.50" text-anchor="middle" class="t">.2</text>
<text x="821.28" y="797.50" text-anchor="middle" class="t">.4</text>
<text x="914.62" y="797.50" text-anchor="middle" class="t">.6</text>
<text x="1007.96" y="797.50" text-anchor="middle" class="t">.8</text>
<path d="M1103.13,797.50 H1101.43 V786.63 Q1100.81,787.22 1099.81,787.81 Q1098.80,788.40 1098.01,788.69 V787.04 Q1099.44,786.37 1100.51,785.41 Q1101.58,784.46 1102.02,783.56 H1103.13 Z" fill="#181818"/>
<text x="867.95" y="821.10" text-anchor="middle" class="t">Propensity scores (Control)</text>
<text x="1111.50" y="783.00" class="t">0</text>
<path d="M1118.73,696.20 H1117.02 V685.33 Q1116.41,685.92 1115.40,686.51 Q1114.40,687.10 1113.60,687.39 V685.74 Q1115.03,685.07 1116.10,684.11 Q1117.17,683.16 1117.62,682.26 H1118.73 Z" fill="#181818"/>
<text x="1111.50" y="609.40" class="t">2</text>
<text x="1111.50" y="522.60" class="t">3</text>
<text transform="translate(1146.3,634.8) rotate(-90)" text-anchor="middle" class="t">Density</text>
</svg></body></html>
